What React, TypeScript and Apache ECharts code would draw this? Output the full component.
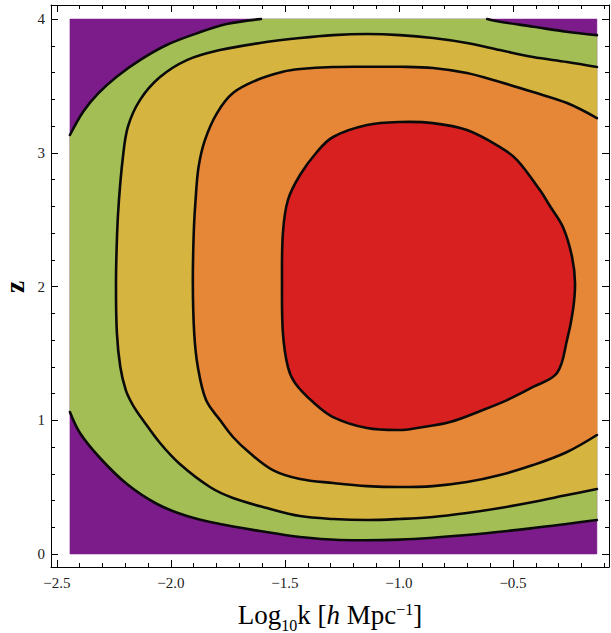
import React, { useEffect, useRef } from "react";
import * as echarts from "echarts";

// Plotted data window (edges of the coloured area)
const X_DATA = [-2.443, -0.132];
const Y_DATA = [0, 4];
// Frame (axis) range
const X_AXIS = [-2.526, -0.079];
const Y_AXIS = [-0.097, 4.105];

const X_MAJOR = [-2.5, -2.0, -1.5, -1.0, -0.5];
const X_MINOR = [-2.4, -2.3, -2.2, -2.1, -1.9, -1.8, -1.7, -1.6, -1.4, -1.3, -1.2, -1.1, -0.9, -0.8, -0.7, -0.6, -0.4, -0.3, -0.2, -0.1];
const Y_MAJOR = [0, 1, 2, 3, 4];
const Y_MINOR = [0.2, 0.4, 0.6, 0.8, 1.2, 1.4, 1.6, 1.8, 2.2, 2.4, 2.6, 2.8, 3.2, 3.4, 3.6, 3.8];

// Contour lines, [log10 k, z]
const c1TopLeft = [
  [-2.443, 3.133], [-2.385, 3.307], [-2.319, 3.444], [-2.238, 3.569], [-2.136, 3.693],
  [-2.019, 3.806], [-1.887, 3.893], [-1.756, 3.963], [-1.605, 4.0],
];
const c1TopRight = [
  [-0.613, 4.0], [-0.557, 3.98], [-0.411, 3.943], [-0.265, 3.905], [-0.132, 3.88],
];
const c1Bottom = [
  [-2.443, 1.062], [-2.399, 0.905], [-2.311, 0.718], [-2.193, 0.523], [-2.061, 0.374],
  [-1.93, 0.284], [-1.785, 0.224], [-1.61, 0.172], [-1.434, 0.127], [-1.259, 0.105],
  [-0.996, 0.108], [-0.702, 0.142], [-0.412, 0.194], [-0.132, 0.254],
];
const c2 = [
  [-0.132, 3.641], [-0.263, 3.679], [-0.412, 3.716], [-0.557, 3.768], [-0.702, 3.821],
  [-0.851, 3.858], [-0.996, 3.88], [-1.14, 3.888], [-1.289, 3.88], [-1.434, 3.858],
  [-1.61, 3.821], [-1.785, 3.768], [-1.93, 3.693], [-2.048, 3.566], [-2.136, 3.394],
  [-2.189, 3.193], [-2.212, 2.946], [-2.228, 2.647], [-2.236, 2.4], [-2.241, 2.026],
  [-2.237, 1.652], [-2.222, 1.398], [-2.198, 1.226], [-2.167, 1.114], [-2.123, 1.002],
  [-2.048, 0.83], [-1.961, 0.673], [-1.829, 0.501], [-1.728, 0.419], [-1.579, 0.344],
  [-1.434, 0.284], [-1.289, 0.262], [-1.14, 0.254], [-0.996, 0.262], [-0.851, 0.277],
  [-0.702, 0.307], [-0.557, 0.344], [-0.412, 0.389], [-0.263, 0.441], [-0.132, 0.486],
];
const c3 = [
  [-0.132, 3.26], [-0.263, 3.372], [-0.412, 3.454], [-0.557, 3.529], [-0.702, 3.596],
  [-0.851, 3.634], [-0.996, 3.643], [-1.14, 3.643], [-1.289, 3.641], [-1.434, 3.626],
  [-1.509, 3.606], [-1.623, 3.544], [-1.728, 3.447], [-1.798, 3.297], [-1.851, 3.095],
  [-1.879, 2.893], [-1.892, 2.647], [-1.9, 2.4], [-1.904, 2.026], [-1.898, 1.652],
  [-1.882, 1.398], [-1.846, 1.151], [-1.785, 1.002], [-1.728, 0.875], [-1.654, 0.755],
  [-1.553, 0.628], [-1.434, 0.561], [-1.289, 0.531], [-1.14, 0.508], [-0.996, 0.501],
  [-0.851, 0.508], [-0.702, 0.538], [-0.557, 0.591], [-0.412, 0.665], [-0.263, 0.763],
  [-0.132, 0.89],
];
const c4 = [
  [-0.996, 3.23], [-0.851, 3.222], [-0.702, 3.17], [-0.557, 3.043], [-0.482, 2.946],
  [-0.382, 2.721], [-0.338, 2.602], [-0.281, 2.445], [-0.241, 2.221], [-0.228, 2.026],
  [-0.237, 1.824], [-0.263, 1.6], [-0.307, 1.353], [-0.412, 1.249], [-0.526, 1.151],
  [-0.632, 1.077], [-0.776, 0.987], [-0.921, 0.942], [-0.996, 0.927], [-1.14, 0.942],
  [-1.289, 1.024], [-1.377, 1.136], [-1.456, 1.279], [-1.487, 1.398], [-1.509, 1.652],
  [-1.513, 2.026], [-1.509, 2.4], [-1.487, 2.647], [-1.434, 2.834], [-1.36, 3.006],
  [-1.289, 3.118], [-1.14, 3.207],
];

const REGION_COLORS = ["#7b1c8a", "#a3be55", "#d6b440", "#e68737", "#d82021"];

const SERIF = "'Liberation Serif', 'DejaVu Serif', 'Times New Roman', serif";

function fmtX(v: number) {
  return (v < 0 ? "\u2212" : "") + Math.abs(v).toFixed(1);
}

export default function App() {
  const ref = useRef<HTMLDivElement>(null);

  useEffect(() => {
    if (!ref.current) return;
    const chart = echarts.init(ref.current, null, { renderer: "svg" });

    const regions = [
      [
        [X_DATA[0], Y_DATA[0]], [X_DATA[1], Y_DATA[0]],
        [X_DATA[1], Y_DATA[1]], [X_DATA[0], Y_DATA[1]],
      ],
      [...c1TopLeft, ...c1TopRight, ...[...c1Bottom].reverse()],
      c2,
      c3,
      c4,
    ];
    const lines = [c1TopLeft, c1TopRight, c1Bottom, c2, c3, c4];
    const closed = [false, false, false, false, false, true];

    const axisBase = {
      type: "value" as const,
      splitLine: { show: false },
      axisLine: { show: true, onZero: false, lineStyle: { color: "#000", width: 1 } },
    };
    const labelStyle = { fontFamily: SERIF, fontSize: 15, color: "#222" };

    const xAxes = [
      {
        ...axisBase, min: X_AXIS[0], max: X_AXIS[1], position: "bottom",
        axisTick: { inside: true, length: 7, customValues: X_MAJOR, lineStyle: { color: "#000" } },
        axisLabel: { ...labelStyle, margin: 8, customValues: X_MAJOR, formatter: (v: number) => fmtX(v) },
        name: "{a|Log}{s|10}{a|k [}{i|h}{a| Mpc}{p|\u22121}{a|]}",
        nameLocation: "middle",
        nameGap: 34,
        nameTextStyle: {
          rich: {
            a: { fontFamily: SERIF, fontSize: 27, color: "#000", lineHeight: 32, verticalAlign: "top" },
            i: { fontFamily: SERIF, fontSize: 27, fontStyle: "italic", color: "#000", lineHeight: 32, verticalAlign: "top" },
            s: { fontFamily: SERIF, fontSize: 16, color: "#000", lineHeight: 32, verticalAlign: "bottom" },
            p: { fontFamily: SERIF, fontSize: 16, color: "#000", lineHeight: 20, verticalAlign: "top" },
          },
        },
      },
      {
        ...axisBase, min: X_AXIS[0], max: X_AXIS[1], position: "bottom",
        axisLine: { show: false, onZero: false },
        axisTick: { inside: true, length: 4, customValues: X_MINOR, lineStyle: { color: "#000" } },
        axisLabel: { show: false },
      },
      {
        ...axisBase, min: X_AXIS[0], max: X_AXIS[1], position: "top",
        axisTick: { inside: true, length: 7, customValues: X_MAJOR, lineStyle: { color: "#000" } },
        axisLabel: { show: false },
      },
      {
        ...axisBase, min: X_AXIS[0], max: X_AXIS[1], position: "top",
        axisLine: { show: false, onZero: false },
        axisTick: { inside: true, length: 4, customValues: X_MINOR, lineStyle: { color: "#000" } },
        axisLabel: { show: false },
      },
    ];
    const yAxes = [
      {
        ...axisBase, min: Y_AXIS[0], max: Y_AXIS[1], position: "left",
        axisTick: { inside: true, length: 7, customValues: Y_MAJOR, lineStyle: { color: "#000" } },
        axisLabel: { ...labelStyle, margin: 6, customValues: Y_MAJOR, formatter: (v: number) => String(v) },
      },
      {
        ...axisBase, min: Y_AXIS[0], max: Y_AXIS[1], position: "left",
        axisLine: { show: false, onZero: false },
        axisTick: { inside: true, length: 4, customValues: Y_MINOR, lineStyle: { color: "#000" } },
        axisLabel: { show: false },
      },
      {
        ...axisBase, min: Y_AXIS[0], max: Y_AXIS[1], position: "right",
        axisTick: { inside: true, length: 7, customValues: Y_MAJOR, lineStyle: { color: "#000" } },
        axisLabel: { show: false },
      },
      {
        ...axisBase, min: Y_AXIS[0], max: Y_AXIS[1], position: "right",
        axisLine: { show: false, onZero: false },
        axisTick: { inside: true, length: 4, customValues: Y_MINOR, lineStyle: { color: "#000" } },
        axisLabel: { show: false },
      },
    ];

    chart.setOption({
      animation: false,
      backgroundColor: "#fff",
      grid: { left: 51, right: 2, top: 5, bottom: 66, containLabel: false, outerBoundsMode: "none" },
      xAxis: xAxes,
      yAxis: yAxes,
      graphic: [
        {
          type: "text",
          x: 14.5,
          y: 287,
          rotation: Math.PI / 2,
          style: {
            text: "z",
            fontFamily: SERIF,
            fontSize: 27,
            fontWeight: "bold",
            fill: "#000",
            align: "center",
            verticalAlign: "middle",
          },
        },
      ],
      series: [
        {
          type: "custom",
          xAxisIndex: 0,
          yAxisIndex: 0,
          silent: true,
          data: regions.map((_, i) => [i]),
          renderItem: (params: any, api: any) => {
            const pts = regions[params.dataIndex].map((p) => api.coord(p));
            return {
              type: "polygon",
              shape: { points: pts },
              style: { fill: REGION_COLORS[params.dataIndex], stroke: REGION_COLORS[params.dataIndex], lineWidth: 0.5 },
            };
          },
        },
        {
          type: "custom",
          xAxisIndex: 0,
          yAxisIndex: 0,
          silent: true,
          data: lines.map((_, i) => [i]),
          renderItem: (params: any, api: any) => {
            const pts = lines[params.dataIndex].map((p) => api.coord(p));
            return {
              type: closed[params.dataIndex] ? "polygon" : "polyline",
              shape: { points: pts, smooth: 0.35 },
              style: { fill: "none", stroke: "#0a0a0a", lineWidth: 2.6, lineJoin: "round", lineCap: "round" },
            };
          },
        },
      ],
    });

    return () => chart.dispose();
  }, []);

  return (
    <div
      ref={ref}
      style={{ position: "fixed", left: 0, top: 0, width: 611, height: 633, background: "#fff" }}
    />
  );
}
